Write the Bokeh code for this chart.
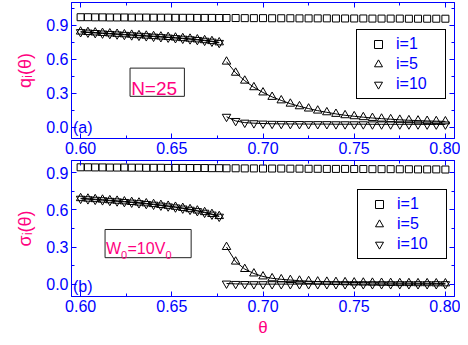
from bokeh.plotting import figure
from bokeh.models import (Range1d, LinearAxis, SingleIntervalTicker, NumeralTickFormatter,
                          Legend, LegendItem, Label, BoxAnnotation)
from bokeh.layouts import column
from bokeh.embed import file_html
from bokeh.resources import INLINE

# ---------------- data ----------------
theta_pre = [0.600, 0.604, 0.608, 0.612, 0.616, 0.620, 0.624, 0.628, 0.632, 0.636,
             0.640, 0.644, 0.648, 0.652, 0.656, 0.660, 0.664, 0.668, 0.672, 0.676]
theta_post = [0.680, 0.685, 0.690, 0.695, 0.700, 0.705, 0.710, 0.715, 0.720, 0.725,
              0.730, 0.735, 0.740, 0.745, 0.750, 0.755, 0.760, 0.765, 0.770, 0.775,
              0.780, 0.785, 0.790, 0.795, 0.800]

# panel (a): q_i(theta)
q1_pre = [0.970, 0.970, 0.969, 0.969, 0.968, 0.968, 0.968, 0.967, 0.967, 0.967,
          0.966, 0.966, 0.966, 0.965, 0.965, 0.965, 0.964, 0.964, 0.964, 0.963]
q1_post = [0.963, 0.963, 0.962, 0.962, 0.962, 0.961, 0.961, 0.961, 0.960, 0.960,
           0.960, 0.960, 0.959, 0.959, 0.959, 0.959, 0.958, 0.958, 0.958, 0.958,
           0.957, 0.957, 0.957, 0.957, 0.957]
q5_pre = [0.843, 0.839, 0.835, 0.831, 0.827, 0.823, 0.819, 0.815, 0.811, 0.807,
          0.803, 0.799, 0.795, 0.790, 0.785, 0.780, 0.774, 0.767, 0.759, 0.748]
q5_post = [0.578, 0.480, 0.410, 0.352, 0.306, 0.267, 0.236, 0.207, 0.184, 0.164,
           0.146, 0.131, 0.117, 0.105, 0.096, 0.088, 0.081, 0.075, 0.070, 0.065,
           0.061, 0.058, 0.055, 0.053, 0.051]
q10_pre = [0.839, 0.835, 0.831, 0.827, 0.823, 0.819, 0.815, 0.811, 0.807, 0.803,
           0.799, 0.795, 0.791, 0.786, 0.781, 0.776, 0.770, 0.763, 0.755, 0.744]
q10_post = [0.092, 0.055, 0.040, 0.035, 0.032, 0.030, 0.029, 0.028, 0.028, 0.027,
            0.027, 0.027, 0.026, 0.026, 0.026, 0.026, 0.025, 0.025, 0.025, 0.025,
            0.025, 0.025, 0.024, 0.024, 0.024]

# panel (b): sigma_i(theta)
s1_pre = [0.945, 0.945, 0.944, 0.944, 0.943, 0.943, 0.943, 0.942, 0.942, 0.941,
          0.941, 0.941, 0.940, 0.940, 0.940, 0.939, 0.939, 0.939, 0.938, 0.938]
s1_post = [0.937, 0.937, 0.936, 0.936, 0.935, 0.935, 0.935, 0.934, 0.934, 0.933,
           0.933, 0.932, 0.932, 0.932, 0.931, 0.931, 0.930, 0.930, 0.930, 0.929,
           0.929, 0.928, 0.928, 0.928, 0.927]
s5_pre = [0.695, 0.691, 0.687, 0.683, 0.678, 0.674, 0.669, 0.664, 0.659, 0.653,
          0.647, 0.640, 0.633, 0.625, 0.616, 0.606, 0.595, 0.582, 0.567, 0.550]
s5_post = [0.300, 0.182, 0.122, 0.086, 0.062, 0.047, 0.039, 0.033, 0.028, 0.024,
           0.021, 0.019, 0.017, 0.015, 0.013, 0.012, 0.011, 0.010, 0.009, 0.008,
           0.008, 0.007, 0.007, 0.006, 0.006]
s10_pre = [0.691, 0.687, 0.683, 0.679, 0.674, 0.670, 0.665, 0.660, 0.655, 0.649,
           0.643, 0.636, 0.629, 0.621, 0.612, 0.602, 0.591, 0.578, 0.563, 0.546]
s10_post = [0.005, 0.002, 0.001, 0.000, 0.000, 0.000, 0.000, 0.000, 0.000, 0.000,
            0.000, 0.000, 0.000, 0.000, 0.000, 0.000, 0.000, 0.000, 0.000, 0.000,
            0.000, 0.000, 0.000, 0.000, 0.000]

legend_labels = ["i=1", "i=5", "i=10"]

# ---------------- style ----------------
BLUE = "#0000FF"
PINK = "#FF0080"
FONT = "Liberation Sans"


def style_axis(ax, labels=True):
    ax.axis_line_color = BLUE
    ax.major_tick_line_color = BLUE
    ax.minor_tick_line_color = BLUE
    ax.major_tick_in = 5
    ax.major_tick_out = 0
    ax.minor_tick_in = 3
    ax.minor_tick_out = 0
    ax.axis_label_text_color = PINK
    ax.axis_label_text_font = FONT
    ax.axis_label_text_font_style = "normal"
    if labels:
        ax.major_label_text_color = BLUE
        ax.major_label_text_font = FONT
        ax.major_label_text_font_size = "16px"
    else:
        ax.major_label_text_font_size = "0px"
        ax.major_label_text_color = None
        ax.major_label_standoff = 0


def make_panel(height, ylo, yhi, border_top, border_bottom, ylabel, xs_pre, xs_post,
               y1, y5p, y5q, y10p, y10q, tag, tag_y):
    p = figure(width=460, height=height, output_backend="svg", toolbar_location=None,
               x_range=Range1d(0.595, 0.805), y_range=Range1d(ylo, yhi),
               min_border_left=71, min_border_right=6, min_border_top=border_top,
               min_border_bottom=border_bottom)
    p.grid.visible = False
    p.outline_line_color = BLUE
    p.background_fill_color = "white"
    p.border_fill_color = "white"

    bx = p.below[0]
    ly = p.left[0]
    bx.ticker = SingleIntervalTicker(interval=0.05, num_minor_ticks=2)
    bx.formatter = NumeralTickFormatter(format="0.00")
    ly.ticker = SingleIntervalTicker(interval=0.3, num_minor_ticks=2)
    ly.formatter = NumeralTickFormatter(format="0.0")
    style_axis(bx)
    style_axis(ly)
    bx.major_label_standoff = 3
    ly.major_label_standoff = 3
    ly.axis_label = ylabel
    ly.axis_label_standoff = 8
    ly.axis_label_text_font_size = "18px"

    top = LinearAxis(ticker=SingleIntervalTicker(interval=0.05, num_minor_ticks=2))
    right = LinearAxis(ticker=SingleIntervalTicker(interval=0.3, num_minor_ticks=2))
    style_axis(top, labels=False)
    style_axis(right, labels=False)
    p.add_layout(top, "above")
    p.add_layout(right, "right")

    xs_all = xs_pre + xs_post
    # connecting lines
    for ys_pre, ys_post in ((y5p, y5q), (y10p, y10q)):
        p.line(xs_pre, ys_pre, line_color="black", line_width=1)
        p.line(xs_post, ys_post, line_color="black", line_width=1)

    r1 = p.scatter(xs_all, y1, marker="square", size=7, line_color="black",
                   line_width=1, fill_color=None)
    r5 = p.scatter(xs_all, y5p + y5q, marker="triangle", size=8.5, line_color="black",
                   line_width=1, fill_color=None)
    r10 = p.scatter(xs_all, y10p + y10q, marker="inverted_triangle", size=8.5,
                    line_color="black", line_width=1, fill_color=None)

    p.add_layout(Label(x=0.5958, y=tag_y, text=tag, text_color=BLUE, text_font=FONT,
                       text_font_size="16px", text_baseline="middle"))
    return p, [r1, r5, r10]


def add_legend(p, renderers, loc):
    items = [LegendItem(label=lab, renderers=[r]) for lab, r in zip(legend_labels, renderers)]
    leg = Legend(items=items, location=loc, border_line_color="black", border_line_width=1,
                 border_line_alpha=1,
                 background_fill_color="white", background_fill_alpha=1,
                 label_text_color=BLUE, label_text_font=FONT, label_text_font_size="16px",
                 padding=4, spacing=0, glyph_width=34, glyph_height=20, label_height=20,
                 label_standoff=1, label_width=45, margin=0)
    p.add_layout(leg)


# ---------------- panel (a) ----------------
p1, rs1 = make_panel(159, -0.1, 1.1, 2, 21, "qᵢ(θ)", theta_pre, theta_post,
                     q1_pre + q1_post, q5_pre, q5_post, q10_pre, q10_post, "(a)", 0.0)
add_legend(p1, rs1, (285, 39))
p1.add_layout(BoxAnnotation(left=0.6271, right=0.6569, bottom=0.272, top=0.521,
                            fill_color=None, line_color="#222222", line_alpha=1,
                            line_width=1))
p1.add_layout(Label(x=0.6277, y=0.345, text="N=25", text_color=PINK, text_font=FONT,
                    text_font_size="19px", text_baseline="alphabetic"))

# ---------------- panel (b) ----------------
p2, rs2 = make_panel(180, -0.1, 1.0, 1, 42, "σᵢ(θ)", theta_pre, theta_post,
                     s1_pre + s1_post, s5_pre, s5_post, s10_pre, s10_post, "(b)", -0.022)
xb = p2.below[0]
xb.axis_label = "θ"
xb.axis_label_standoff = 3
xb.axis_label_text_font_size = "17px"
add_legend(p2, rs2, (286, 37))
p2.add_layout(BoxAnnotation(left=0.6134, right=0.6606, bottom=0.214, top=0.442,
                            fill_color=None, line_color="#222222", line_alpha=1,
                            line_width=1))
for xx, yy, txt, fs in ((0.6139, 0.289, "W", "16px"), (0.6222, 0.235, "0", "11px"),
                        (0.6257, 0.289, "=10V", "16px"), (0.6465, 0.235, "0", "11px")):
    p2.add_layout(Label(x=xx, y=yy, text=txt, text_color=PINK, text_font=FONT,
                        text_font_size=fs, text_baseline="alphabetic"))

layout = column(p1, p2, spacing=0)
open("out.html", "w").write(file_html(layout, INLINE))
